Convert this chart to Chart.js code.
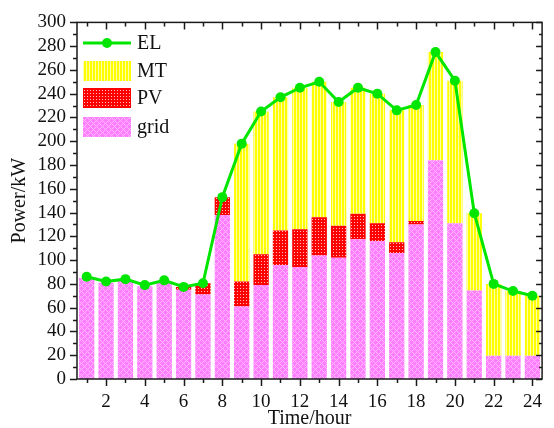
<!doctype html>
<html>
<head>
<meta charset="utf-8">
<script src="https://cdn.jsdelivr.net/npm/chart.js@4.4.1/dist/chart.umd.min.js"></script>
</head>
<body style="margin:0;background:#fff;overflow:hidden;">
<div style="width:554px;height:428px;position:relative;">
    <canvas id="myChart"></canvas>
</div>
<script>
    const hours = ['1','2','3','4','5','6','7','8','9','10','11','12','13','14','15','16','17','18','19','20','21','22','23','24'];
    const gridPower = [85, 81, 83, 78, 82, 75, 71, 138, 61, 79, 96, 94, 104, 102, 117.5, 116, 106, 130, 184, 131, 74.5, 19.5, 19.5, 19.5];
    const pvPower = [0, 0, 0, 0, 0, 2.5, 9.5, 15, 21, 26, 29, 32, 32, 27, 21.5, 15, 9, 3, 0, 0, 0, 0, 0, 0];
    const mtPower = [0, 0, 0, 0, 0, 0, 0, 0, 116, 120, 112, 119, 114, 104, 106, 109, 111, 97.5, 91, 120, 65, 60.5, 54.5, 50.5];
    const elLoad = [86, 82, 84, 79, 83, 77.5, 80.5, 153, 198, 225, 237, 245, 250, 233, 245, 240, 226, 230.5, 275, 251, 139.5, 80, 74, 70];
    const yTicks = [0, 300, 20];

    const green = '#00e600';
    const serif = '"Liberation Serif", "DejaVu Serif", serif';

    // fill patterns like the origin hatches, written pixel by pixel
    function makePattern(size, base, mark, test) {
        const c = document.createElement('canvas');
        c.width = size; c.height = size;
        const g = c.getContext('2d');
        const img = g.createImageData(size, size);
        for (let y = 0; y < size; y++) {
            for (let x = 0; x < size; x++) {
                const col = test(x, y) ? mark : base;
                const k = (y * size + x) * 4;
                img.data[k] = col[0]; img.data[k + 1] = col[1]; img.data[k + 2] = col[2]; img.data[k + 3] = 255;
            }
        }
        g.putImageData(img, 0, 0);
        return g.createPattern(c, 'repeat');
    }
    const ctx = document.getElementById('myChart').getContext('2d');
    const mtFill = makePattern(3, [255, 255, 0], [255, 255, 170], (x, y) => x === 2);
    const pvFill = makePattern(3, [255, 0, 0], [255, 190, 190], (x, y) => x === 0 && y === 0);
    const gridFill = makePattern(6, [255, 125, 255], [255, 185, 255], (x, y) => (x + y) % 6 === 0 || (x - y + 6) % 6 === 0);

    // frame, tick marks and legend drawn by hand (origin style)
    const decor = {
        id: 'decor',
        afterDraw(chart) {
            const c = chart.ctx, a = chart.chartArea;
            const xs = chart.scales.x, ys = chart.scales.y;
            c.save();
            c.strokeStyle = '#1a1a1a';
            c.lineWidth = 1.5;
            c.beginPath();
            for (let v = yTicks[0]; v <= yTicks[1]; v += yTicks[2] / 2) {
                const y = Math.round(ys.getPixelForValue(v)) + 0.5;
                const major = v % yTicks[2] === 0;
                c.moveTo(a.left - (major ? 7 : 4), y); c.lineTo(a.left, y);
                c.moveTo(a.right, y); c.lineTo(a.right - (major ? 6 : 3), y);
            }
            hours.forEach((h, i) => {
                const x = Math.round(xs.getPixelForValue(i)) + 0.5;
                const major = (i + 1) % 2 === 0;
                c.moveTo(x, a.bottom); c.lineTo(x, a.bottom + (major ? 7 : 4));
                c.moveTo(x, a.top); c.lineTo(x, a.top + (major ? 7 : 4));
            });
            c.stroke();
            c.strokeRect(a.left, a.top, a.right - a.left, a.bottom - a.top);

            // legend
            const lx = 83, lw = 48, tx = 137;
            c.font = '20px ' + serif;
            c.textBaseline = 'middle';
            c.strokeStyle = green;
            c.lineWidth = 3;
            c.beginPath(); c.moveTo(lx, 43); c.lineTo(lx + lw, 43); c.stroke();
            c.fillStyle = green;
            c.beginPath(); c.arc(lx + lw / 2, 43, 5, 0, Math.PI * 2); c.fill();
            c.fillStyle = '#111';
            c.fillText('EL', tx, 44);
            const boxes = [['MT', mtFill, 61], ['PV', pvFill, 88], ['grid', gridFill, 117]];
            boxes.forEach(([name, fill, y]) => {
                c.fillStyle = fill;
                c.fillRect(lx, y, lw, 20);
                c.fillStyle = '#111';
                c.fillText(name, tx, y + 11);
            });
            c.restore();
        }
    };

    new Chart(ctx, {
        type: 'bar',
        data: {
            labels: hours,
            datasets: [{
                type: 'line',
                label: 'EL',
                data: elLoad,
                borderColor: green,
                backgroundColor: green,
                borderWidth: 3,
                pointRadius: 5,
                pointBorderWidth: 0,
                tension: 0,
                stack: 'load',
                order: 0
            }, {
                label: 'grid',
                data: gridPower,
                backgroundColor: gridFill,
                stack: 'supply',
                order: 1
            }, {
                label: 'PV',
                data: pvPower,
                backgroundColor: pvFill,
                stack: 'supply',
                order: 1
            }, {
                label: 'MT',
                data: mtPower,
                backgroundColor: mtFill,
                stack: 'supply',
                order: 1
            }]
        },
        options: {
            responsive: true,
            maintainAspectRatio: false,
            animation: false,
            layout: { padding: { top: 20, right: 2, left: 0, bottom: 0 } },
            datasets: { bar: { barPercentage: 0.79, categoryPercentage: 1, borderWidth: 0 } },
            plugins: { legend: { display: false }, tooltip: { enabled: false } },
            scales: {
                x: {
                    stacked: true,
                    grid: { display: false, drawTicks: false },
                    border: { display: false },
                    ticks: {
                        autoSkip: false, maxRotation: 0, padding: 12,
                        color: '#111', font: { family: serif, size: 19 },
                        callback: (v, i) => (i + 1) % 2 === 0 ? hours[i] : ''
                    },
                    title: { display: true, text: 'Time/hour', color: '#111', font: { family: serif, size: 20 }, padding: { top: 0, bottom: -3 } },
                    afterFit: s => { s.height = 49; }
                },
                y: {
                    stacked: true,
                    min: yTicks[0], max: yTicks[1],
                    grid: { display: false, drawTicks: false },
                    border: { display: false },
                    ticks: { stepSize: yTicks[2], autoSkip: false, padding: 11, color: '#111', font: { family: serif, size: 19 } },
                    title: { display: true, text: 'Power/kW', color: '#111', font: { family: serif, size: 20 }, padding: { top: 8, bottom: 0 } },
                    afterFit: s => { s.width = 77; }
                }
            }
        },
        plugins: [decor]
    });
</script>
</body>
</html>
